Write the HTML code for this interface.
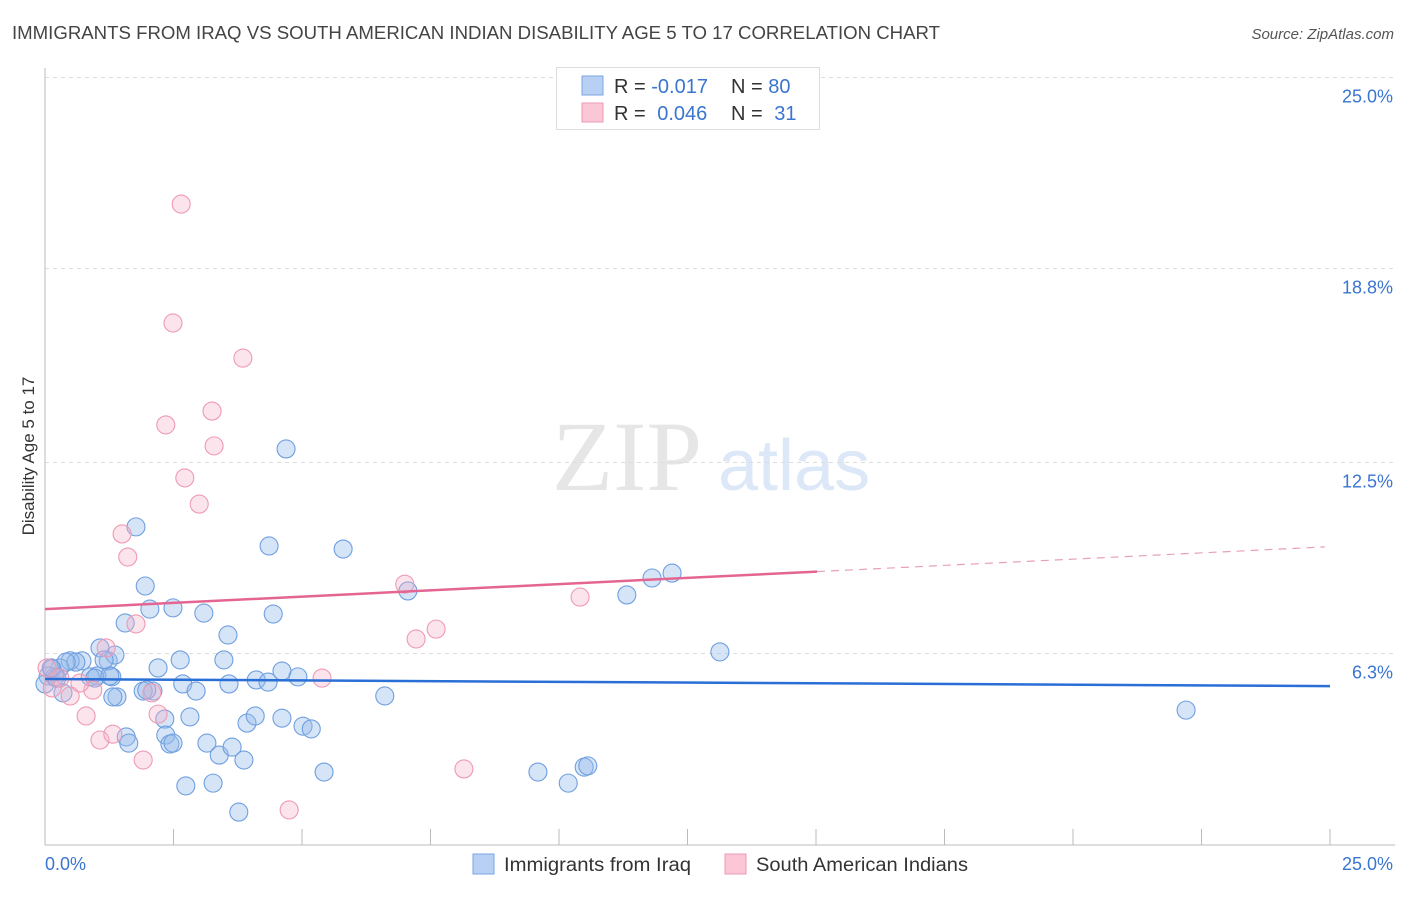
<!DOCTYPE html>
<html><head><meta charset="utf-8"><style>
body{margin:0;background:#fff;font-family:"Liberation Sans",sans-serif}
svg text{font-family:"Liberation Sans",sans-serif}
</style></head><body>
<svg id="chart" width="1406" height="892">
<text x="12" y="39" font-size="18" fill="#444" textLength="928" lengthAdjust="spacingAndGlyphs">IMMIGRANTS FROM IRAQ VS SOUTH AMERICAN INDIAN DISABILITY AGE 5 TO 17 CORRELATION CHART</text>
<text x="1394" y="39" font-size="15" fill="#555" font-style="italic" text-anchor="end">Source: ZipAtlas.com</text>
<text x="34" y="456" font-size="17" fill="#333" text-anchor="middle" transform="rotate(-90 34 456)">Disability Age 5 to 17</text>
<g>
<text x="552" y="490" font-size="100" fill="#e6e6e6" font-family="Liberation Serif,serif" style="font-family:'Liberation Serif',serif">ZIP</text>
<text x="718" y="490" font-size="72" fill="#dce8f7">atlas</text>
</g>
<g id="grid"></g><g id="axes"></g><g id="pts"></g><g id="trends"></g>
<g>
<rect x="556.5" y="67.5" width="263" height="62" fill="#fff" stroke="#ddd"/>
<rect x="582" y="76" width="21" height="19" fill="#b7d0f3" stroke="#7aa6e0"/>
<rect x="582" y="103" width="21" height="19" fill="#fbc7d6" stroke="#ee9ab3"/>
<text x="614" y="93" font-size="20" fill="#333">R = <tspan fill="#3a75d0">-0.017</tspan></text>
<text x="731" y="93" font-size="20" fill="#333">N = <tspan fill="#3a75d0">80</tspan></text>
<text x="614" y="120" font-size="20" fill="#333">R = <tspan fill="#3a75d0" dx="6">0.046</tspan></text>
<text x="731" y="120" font-size="20" fill="#333">N = <tspan fill="#3a75d0" dx="6">31</tspan></text>
</g>
<g>
<rect x="473" y="854" width="21" height="20" fill="#b7d0f3" stroke="#7aa6e0"/>
<text x="504" y="871" font-size="19" fill="#333" textLength="187" lengthAdjust="spacingAndGlyphs">Immigrants from Iraq</text>
<rect x="725" y="854" width="21" height="20" fill="#fbc7d6" stroke="#ee9ab3"/>
<text x="756" y="871" font-size="19" fill="#333" textLength="212" lengthAdjust="spacingAndGlyphs">South American Indians</text>
</g>
</svg>
<script>
const yTicks=[25.0,18.8,12.5,6.3];
const yTickLabels=["25.0%","18.8%","12.5%","6.3%"];
const xLabels=["0.0%","25.0%"];
const iraqX=[1.77,1.95,2.04,2.49,3.09,1.56,3.56,4.36,5.80,4.69,4.44,7.06,11.32,11.81,12.20,13.13,22.20,6.61,4.92,4.61,4.11,4.34,3.58,3.48,2.63,2.20,2.68,2.94,2.10,1.91,1.40,1.30,1.01,0.88,1.23,1.36,1.07,0.72,0.49,0.29,0.14,0.19,0.35,0.06,0.00,2.33,2.82,2.35,2.43,1.58,1.63,3.15,3.39,3.64,3.87,3.93,4.09,4.61,5.02,5.18,5.43,2.74,3.27,3.77,9.59,10.18,10.49,10.56,0.60,0.97,0.23,0.41,1.26,0.12,2.49,1.32,1.98,1.15];
const iraqY=[10.41,8.49,7.74,7.78,7.61,7.29,6.90,9.79,9.69,12.94,7.58,8.33,8.20,8.75,8.91,6.35,4.46,4.92,5.54,5.73,5.44,5.37,5.31,6.09,6.09,5.83,5.31,5.08,5.08,5.08,4.89,5.54,5.57,5.54,6.06,6.25,6.48,6.06,6.06,5.83,5.80,5.54,5.02,5.57,5.31,4.17,4.24,3.65,3.36,3.59,3.39,3.39,3.00,3.26,2.84,4.04,4.27,4.20,3.94,3.85,2.45,2.00,2.09,1.15,2.45,2.09,2.61,2.65,6.02,5.50,5.50,6.02,5.57,5.83,3.39,4.89,5.11,6.09];
const saiX=[2.65,2.49,3.85,3.25,2.35,3.29,2.72,3.00,1.50,1.61,1.77,7.00,10.41,7.61,7.22,5.39,1.19,0.93,0.49,0.80,1.07,1.32,1.91,2.20,2.08,4.75,8.15,0.04,0.14,0.29,0.68];
const saiY=[20.89,17.03,15.89,14.17,13.72,13.04,12.00,11.15,10.18,9.43,7.26,8.55,8.13,7.09,6.77,5.50,6.48,5.11,4.92,4.27,3.49,3.68,2.84,4.33,5.02,1.22,2.55,5.83,5.18,5.50,5.34];
const iraqTrend=[5.47,5.24];
const saiTrend=[7.74,9.76];
const NS="http://www.w3.org/2000/svg";
const sx=v=>45+v*51.4, sy=v=>847.5-v*30.8;
function mk(tag,attrs,parent){const e=document.createElementNS(NS,tag);for(const k in attrs)e.setAttribute(k,attrs[k]);document.getElementById(parent).appendChild(e);return e;}
yTicks.forEach((t,i)=>{
 const g=mk('line',{x1:45,x2:1395,y1:sy(t),y2:sy(t),stroke:'#ddd','stroke-dasharray':'4 4'},'grid');
 
 
 const tx=mk('text',{x:1393,y:sy(t)+25,'font-size':18,fill:'#3a75d0','text-anchor':'end'},'grid');
 tx.textContent=yTickLabels[i];
 
 
});
mk('line',{x1:45,x2:45,y1:68,y2:845,stroke:'#bbb'},'axes');
mk('line',{x1:45,x2:1395,y1:845,y2:845,stroke:'#bbb'},'axes');
for(let i=0;i<=10;i++){const x=sx(i*2.5);const l=mk('line',{x1:x,x2:x,y1:829,y2:845,stroke:'#bbb'},'axes');
 
 }
const xl0=mk('text',{x:45,y:870,'font-size':18,fill:'#3a75d0'},'axes');xl0.textContent=xLabels[0];


const xl1=mk('text',{x:1393,y:870,'font-size':18,fill:'#3a75d0','text-anchor':'end'},'axes');xl1.textContent=xLabels[1];


iraqX.forEach((x,i)=>{const c=mk('circle',{cx:sx(x),cy:sy(iraqY[i]),r:9,fill:'rgba(150,188,236,0.4)',stroke:'#6f9fe0','stroke-width':1.1},'pts');
 
 });
saiX.forEach((x,i)=>{const c=mk('circle',{cx:sx(x),cy:sy(saiY[i]),r:9,fill:'rgba(247,178,200,0.35)',stroke:'#ee9ab3','stroke-width':1.1},'pts');
 
 });
const bl=mk('line',{x1:sx(0),y1:sy(iraqTrend[0]),x2:sx(25),y2:sy(iraqTrend[1]),stroke:'#2a6fd6','stroke-width':2.5},'trends');


const split=15.02, xe=24.9;
const py=x=>saiTrend[0]+(saiTrend[1]-saiTrend[0])*x/xe;
const pl=mk('line',{x1:sx(0),y1:sy(py(0)),x2:sx(split),y2:sy(py(split)),stroke:'#e46592','stroke-width':2.5},'trends');


const pd=mk('line',{x1:sx(split),y1:sy(py(split)),x2:sx(xe),y2:sy(py(xe)),stroke:'#e8a0b8','stroke-width':1.2,'stroke-dasharray':'8 6'},'trends');


</script>
</body></html>
